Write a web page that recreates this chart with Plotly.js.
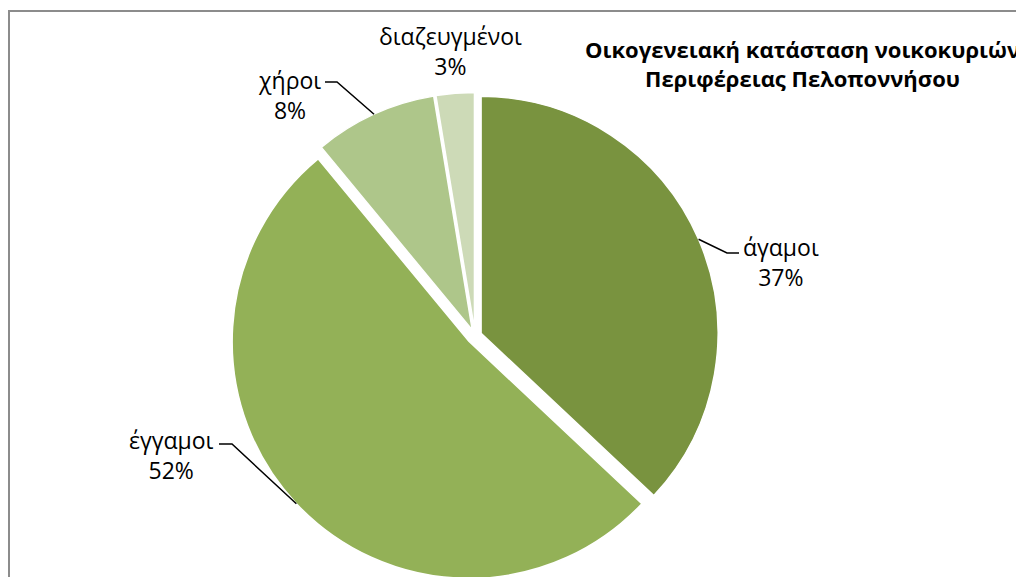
<!DOCTYPE html>
<html>
<head>
<meta charset="utf-8">
<script src="https://cdn.plot.ly/plotly-3.0.1.min.js"></script>
<style>
html,body{margin:0;padding:0;overflow:hidden;background:#fff;}
#chart{width:1016px;height:581px;}
</style>
</head>
<body>
<div id="chart"></div>
<script>
// ---- data ----
var categories = ['άγαμοι', 'έγγαμοι', 'χήροι', 'διαζευγμένοι'];
var values = [37.0, 52.0, 8.4, 2.6];
var colors = ['#79933F', '#93B157', '#AEC68A', '#CDDAB7'];
var pulls = [0.028, 0.034, 0.028, 0.028];
var titleText = '<b>Οικογενειακή κατάσταση νοικοκυριών<br>Περιφέρειας Πελοποννήσου</b>';

// ---- layout geometry (pixels) ----
var W = 1016, H = 581;
var CX = 475, CY = 336, R = 237;
var maxPull = Math.max.apply(null, pulls);
var half = R * (1 + maxPull);
function fx(px){ return px / W; }
function fy(py){ return 1 - py / H; }

// label text centers (px) and elbow points for leader lines
var labelPos = [
  {x: 781, y: 262, elbow: [727, 253], end: [739, 253], line: true},
  {x: 171, y: 455, elbow: [232, 444], end: [219, 444], line: true},
  {x: 289, y: 95,  elbow: [337, 82],  end: [325, 82],  line: true},
  {x: 450, y: 51,  line: false}
];

var total = values.reduce(function(a,b){return a+b;}, 0);
var annotations = [], shapes = [];
var cum = 0;
for (var i = 0; i < values.length; i++) {
  var frac = values[i] / total;
  var mid = (cum + frac / 2) * 2 * Math.PI; // clockwise from 12 o'clock
  cum += frac;
  var ux = Math.sin(mid), uy = -Math.cos(mid);
  var vx = CX + pulls[i] * R * ux, vy = CY + pulls[i] * R * uy;
  var ex = vx + R * ux, ey = vy + R * uy;
  var lp = labelPos[i];
  annotations.push({
    xref: 'paper', yref: 'paper', x: fx(lp.x), y: fy(lp.y),
    xanchor: 'center', yanchor: 'middle', showarrow: false,
    text: categories[i] + '<br>' + Math.round(frac * 100) + '%',
    font: {family: 'Open Sans, sans-serif', size: 23, color: '#000'}
  });
  if (lp.line) {
    shapes.push({
      type: 'path', xref: 'paper', yref: 'paper',
      path: 'M' + fx(ex) + ',' + fy(ey) + ' L' + fx(lp.elbow[0]) + ',' + fy(lp.elbow[1]) +
            ' L' + fx(lp.end[0]) + ',' + fy(lp.end[1]),
      line: {color: '#000', width: 1.5}
    });
  }
}
// chart title
annotations.push({
  xref: 'paper', yref: 'paper', x: fx(802.5), y: fy(64),
  xanchor: 'center', yanchor: 'middle', showarrow: false,
  text: titleText,
  font: {family: 'Open Sans, sans-serif', size: 22, color: '#000'}
});
// chart border (top & left visible)
shapes.push({
  type: 'rect', xref: 'paper', yref: 'paper',
  x0: fx(9), x1: 1.2, y0: -0.2, y1: fy(11),
  line: {color: '#8C8C8C', width: 2}, fillcolor: 'rgba(0,0,0,0)'
});

var trace = {
  type: 'pie',
  labels: categories,
  values: values,
  sort: false,
  direction: 'clockwise',
  rotation: 0,
  pull: pulls,
  textinfo: 'none',
  hoverinfo: 'label+percent',
  marker: {colors: colors, line: {color: '#ffffff', width: 1.5}},
  domain: {x: [fx(CX - half), fx(CX + half)], y: [0, fy(CY - half)]},
  showlegend: false
};

var layout = {
  width: W, height: H,
  margin: {l: 0, r: 0, t: 0, b: 0},
  paper_bgcolor: '#ffffff',
  showlegend: false,
  annotations: annotations,
  shapes: shapes
};

Plotly.newPlot('chart', [trace], layout, {displayModeBar: false, staticPlot: true});
</script>
</body>
</html>
